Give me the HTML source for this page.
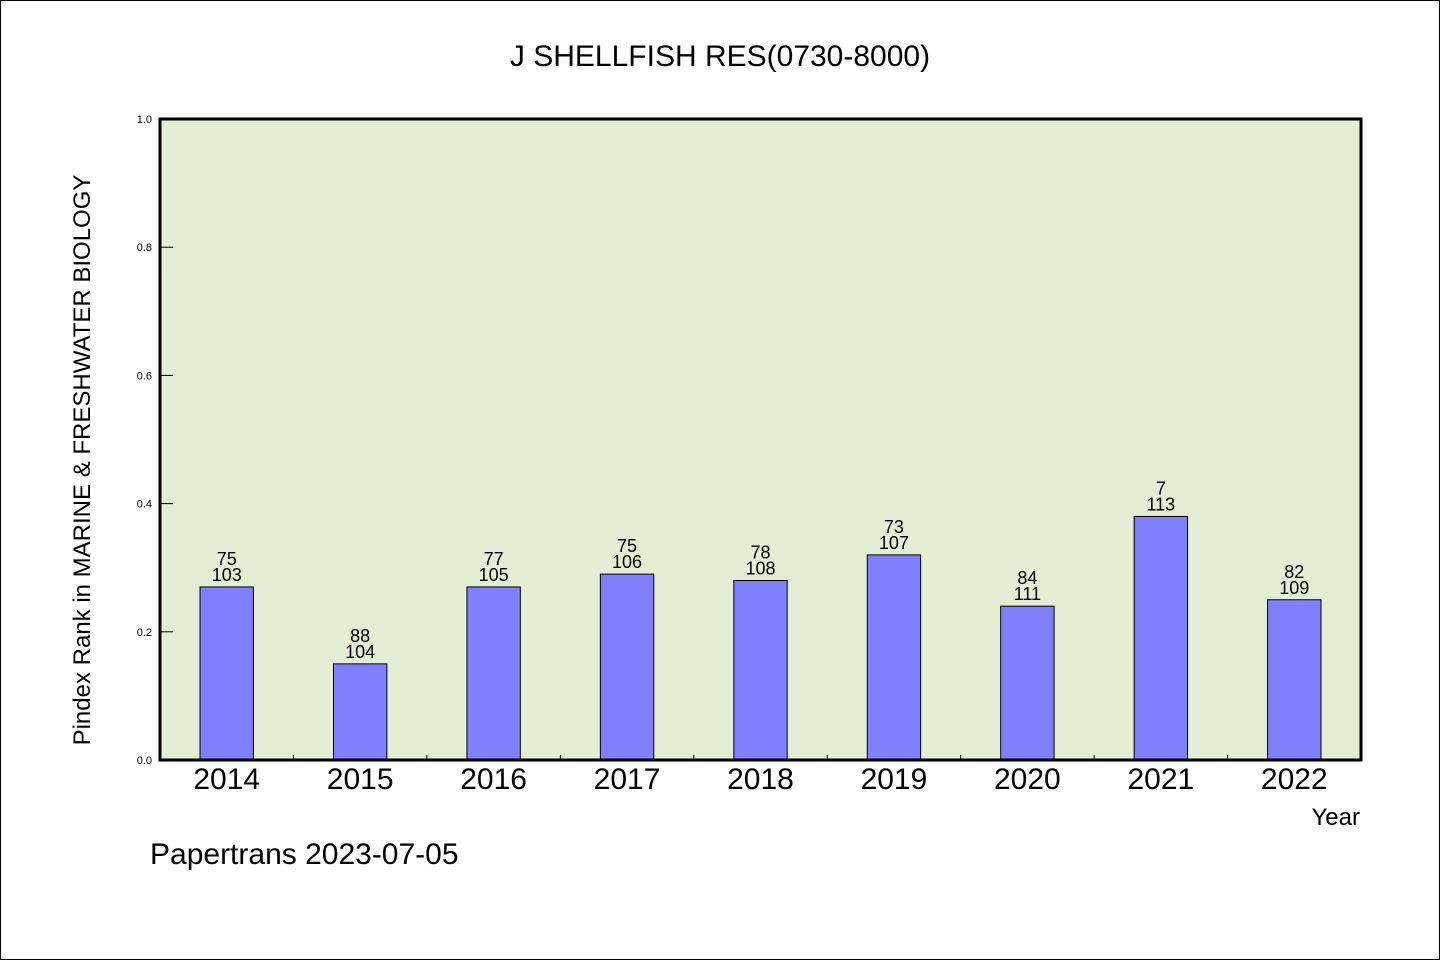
<!DOCTYPE html>
<html><head><meta charset="utf-8"><style>
html,body{margin:0;padding:0;background:#fff}
svg{display:block}
text{font-family:"WenQuanYi Zen Hei","Liberation Sans",sans-serif;fill:#000}
</style></head><body>
<svg id="chart" width="1440" height="960" viewBox="0 0 1440 960">
<rect x="0.5" y="0.5" width="1439" height="959" fill="#fff" stroke="#000"/>
<text x="720" y="66" font-size="30" text-anchor="middle">J SHELLFISH RES(0730-8000)</text>
<rect x="160" y="119" width="1201" height="641" fill="#e2efd5"/>
<g id="ticks"></g>
<g id="bars"></g>
<rect x="160" y="119" width="1201" height="641" fill="none" stroke="#000" stroke-width="3"/>
<text transform="translate(90,460) rotate(-90)" font-size="24" text-anchor="middle">Pindex Rank in MARINE &amp; FRESHWATER BIOLOGY</text>
<text x="1360" y="825" font-size="24" text-anchor="end">Year</text>
<text x="150" y="864" font-size="30">Papertrans 2023-07-05</text>
</svg>
<script>
const categories = ["2014","2015","2016","2017","2018","2019","2020","2021","2022"];
const values = [0.27,0.15,0.27,0.29,0.28,0.32,0.24,0.38,0.25];
const ranks = ["75","88","77","75","78","73","84","7","82"];
const totals = ["103","104","105","106","108","107","111","113","109"];
const yTicks = [0,0.2,0.4,0.6,0.8,1.0];
const yTickLabels = ["0.0","0.2","0.4","0.6","0.8","1.0"];

const NS="http://www.w3.org/2000/svg";
const L=160,R=1361,T=119,B=760;
const step=(R-L)/categories.length;
const y=v=>B-v*(B-T);
const xc=i=>L+step*(i+0.5);
function mk(tag,attrs,parent,txt){const e=document.createElementNS(NS,tag);for(const k in attrs)e.setAttribute(k,attrs[k]);if(txt!=null)e.textContent=txt;parent.appendChild(e);return e;}
const tg=document.getElementById('ticks'), bg=document.getElementById('bars');
yTicks.forEach((v,i)=>{
  const ln=mk('line',{x1:L,x2:L+13,y1:y(v),y2:y(v),stroke:'#000','stroke-width':1},tg);
  
  
  const t=mk('text',{x:152,y:y(v)+4,'font-size':11,'text-anchor':'end'},tg,yTickLabels[i]);
  
  
});
for(let i=1;i<categories.length;i++){
  const ln=mk('line',{x1:L+step*i,x2:L+step*i,y1:B,y2:B-5,stroke:'#000','stroke-width':1},tg);
  
  
}
const bw=step*0.4;
categories.forEach((c,i)=>{
  const r=mk('rect',{x:xc(i)-bw/2,y:y(values[i]),width:bw,height:B-y(values[i]),fill:'#8080ff',stroke:'#000','stroke-width':1},bg);
  
  
  const t1=mk('text',{x:xc(i),y:y(values[i])-22,'font-size':18,'text-anchor':'middle'},bg,ranks[i]);
  
  
  const t2=mk('text',{x:xc(i),y:y(values[i])-6,'font-size':18,'text-anchor':'middle'},bg,totals[i]);
  
  
  const xl=mk('text',{x:xc(i),y:789,'font-size':30,'text-anchor':'middle'},bg,c);
  
  
});
</script>
</body></html>
